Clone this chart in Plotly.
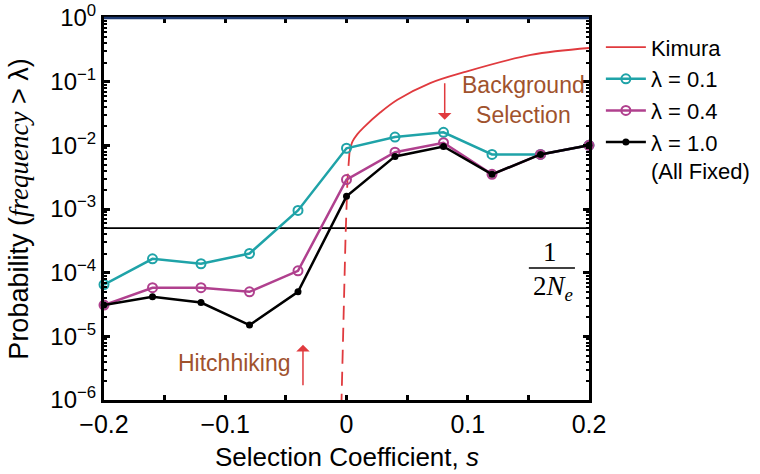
import plotly.graph_objects as go

# ---------------- data ----------------
s_vals = [-0.2, -0.16, -0.12, -0.08, -0.04, 0.0, 0.04, 0.08, 0.12, 0.16, 0.2]
p_lambda_01 = [6.5e-5, 1.65e-4, 1.38e-4, 2.0e-4, 9.5e-4, 9.0e-3, 1.35e-2, 1.6e-2, 7.2e-3, 7.2e-3, 1.0e-2]
p_lambda_04 = [3.1e-5, 5.8e-5, 5.8e-5, 5.0e-5, 1.07e-4, 2.9e-3, 7.8e-3, 1.1e-2, 3.5e-3, 7.2e-3, 1.0e-2]
p_lambda_10 = [3.1e-5, 4.2e-5, 3.4e-5, 1.5e-5, 5.0e-5, 1.58e-3, 6.7e-3, 9.6e-3, 3.5e-3, 7.2e-3, 1.0e-2]

# Kimura curve (solid part, s > 0)
kimura_s = [0.0025, 0.005, 0.009, 0.014, 0.028, 0.042, 0.069, 0.097, 0.152, 0.2]
kimura_p = [7.9e-3, 1.15e-2, 1.5e-2, 1.9e-2, 3.3e-2, 5.2e-2, 9.5e-2, 1.41e-1, 2.63e-1, 3.38e-1]
# Kimura curve, dashed part (steep drop near s = 0)
kimura_neg_s = [0.0025, 0.0008, -0.0008, -0.0041]
kimura_neg_p = [7.9e-3, 2.9e-3, 3.6e-4, 1.0e-6]

inv_2ne = 5e-4  # 1 / (2 Ne)

x_tick_vals = [-0.2, -0.15, -0.1, -0.05, 0.0, 0.05, 0.1, 0.15, 0.2]
x_tick_text = ["\u22120.2", "", "\u22120.1", "", "0", "", "0.1", "", "0.2"]
y_exponents = [-6, -5, -4, -3, -2, -1, 0]

# ---------------- styling ----------------
RED = "#e03a3e"
CYAN = "#1fa3a8"
MAGENTA = "#b0408e"
BLACK = "#000000"
BROWN = "#a0522d"
FONT = "Liberation Sans, Arial, Helvetica, sans-serif"
SERIF = "Liberation Serif, Times New Roman, serif"

fig = go.Figure()

fig.add_trace(go.Scatter(x=[s_vals[0], s_vals[-1]], y=[inv_2ne, inv_2ne], mode="lines",
                         line=dict(color="black", width=1.6), showlegend=False, hoverinfo="skip"))

fig.add_trace(go.Scatter(x=kimura_neg_s, y=kimura_neg_p, mode="lines",
                         line=dict(color=RED, width=1.8, dash="14px,8px"),
                         showlegend=False))
fig.add_trace(go.Scatter(x=kimura_s, y=kimura_p, mode="lines", name="Kimura",
                         line=dict(color=RED, width=1.8, shape="spline", smoothing=1.0)))

fig.add_trace(go.Scatter(x=s_vals, y=p_lambda_01, mode="lines+markers", name="\u03bb = 0.1",
                         line=dict(color=CYAN, width=2.5),
                         marker=dict(symbol="circle-open", size=9, color=CYAN, line=dict(width=2)),
                         cliponaxis=False))
fig.add_trace(go.Scatter(x=s_vals, y=p_lambda_04, mode="lines+markers", name="\u03bb = 0.4",
                         line=dict(color=MAGENTA, width=2.5),
                         marker=dict(symbol="circle-open", size=9, color=MAGENTA, line=dict(width=2)),
                         cliponaxis=False))
fig.add_trace(go.Scatter(x=s_vals, y=p_lambda_10, mode="lines+markers", name="\u03bb = 1.0<br>(All Fixed)",
                         line=dict(color=BLACK, width=2.5),
                         marker=dict(symbol="circle", size=7, color=BLACK),
                         cliponaxis=False))

minor_vals = [k * 10 ** e for e in range(-6, 0) for k in range(2, 10)]

fig.update_layout(
    width=760, height=474,
    margin=dict(l=104, r=171, t=18, b=74, autoexpand=False),
    paper_bgcolor="white", plot_bgcolor="white",
    font=dict(family=FONT, color="black", size=20),
    showlegend=True,
    legend=dict(x=1.0245, y=0.978, xanchor="left", yanchor="top",
                font=dict(size=22, family=FONT), bgcolor="rgba(0,0,0,0)",
                valign="top", itemwidth=40, tracegroupgap=0),
    xaxis=dict(range=[-0.2, 0.2], tickmode="array", tickvals=x_tick_vals, ticktext=x_tick_text,
               ticks="inside", ticklen=5, tickwidth=2.5, tickcolor="black",
               showline=True, linewidth=3, linecolor="black", mirror="ticks",
               showgrid=False, zeroline=False, tickfont=dict(size=25), ticklabeloverflow="allow"),
    yaxis=dict(type="log", range=[-6, 0], tickmode="array",
               tickvals=[10 ** e for e in y_exponents],
               ticktext=["10<sup>" + ("\u2212" + str(-e) if e < 0 else str(e)) + "</sup>" for e in y_exponents],
               ticks="inside", ticklen=6, tickwidth=2.5, tickcolor="black",
               minor=dict(tickvals=minor_vals, ticks="inside", ticklen=3, tickwidth=1.5, tickcolor="black"),
               showline=True, linewidth=3, linecolor="black", mirror="ticks",
               showgrid=False, zeroline=False, tickfont=dict(size=24), ticklabeloverflow="allow",
               title=dict(text="Probability (<span style=\"font-family:'Liberation Serif'\"><i>frequency</i></span> > \u03bb)",
                          font=dict(size=27), standoff=14)),
    shapes=[
        dict(type="line", xref="paper", yref="paper", x0=0, x1=1, y0=1, y1=1,
             line=dict(color="#1f3b73", width=2.5)),
        dict(type="line", xref="paper", yref="paper", x0=0.876, x1=0.971, y0=0.3455, y1=0.3455,
             line=dict(color="black", width=1.4)),
    ],
    annotations=[
        dict(x=0.5, y=-0.15, xref="paper", yref="paper", text="Selection Coefficient, <i>s</i>",
             showarrow=False, xanchor="center", yanchor="middle", font=dict(size=26, family=FONT)),
        dict(x=0.1456, y=-1.287, xref="x", yref="y", text="Background<br>Selection", showarrow=False,
             font=dict(size=23, color=BROWN, family=FONT)),
        dict(x=0.081, y=-1.60, xref="x", yref="y", text="", showarrow=True, ax=0, ay=-38,
             arrowhead=1, arrowsize=1.5, arrowwidth=1.5, arrowcolor=RED),
        dict(x=-0.092, y=-5.416, xref="x", yref="y", text="Hitchhiking", showarrow=False,
             font=dict(size=23, color=BROWN, family=FONT)),
        dict(x=-0.0359, y=-5.133, xref="x", yref="y", text="", showarrow=True, ax=0, ay=42,
             arrowhead=1, arrowsize=1.5, arrowwidth=1.5, arrowcolor=RED),
        dict(x=0.1678, y=-3.673, xref="x", yref="y", text="1", showarrow=False,
             font=dict(size=27, family=SERIF)),
        dict(x=0.17, y=-4.239, xref="x", yref="y", text="2<i>N</i><sub><i>e</i></sub>", showarrow=False,
             font=dict(size=27, family=SERIF)),
    ],
)

# remove the browser's default 8 px body margin so the figure fills the window exactly
fig.write_html("out.html", config={"displayModeBar": False},
               post_script="document.body.style.margin = '0px';")
